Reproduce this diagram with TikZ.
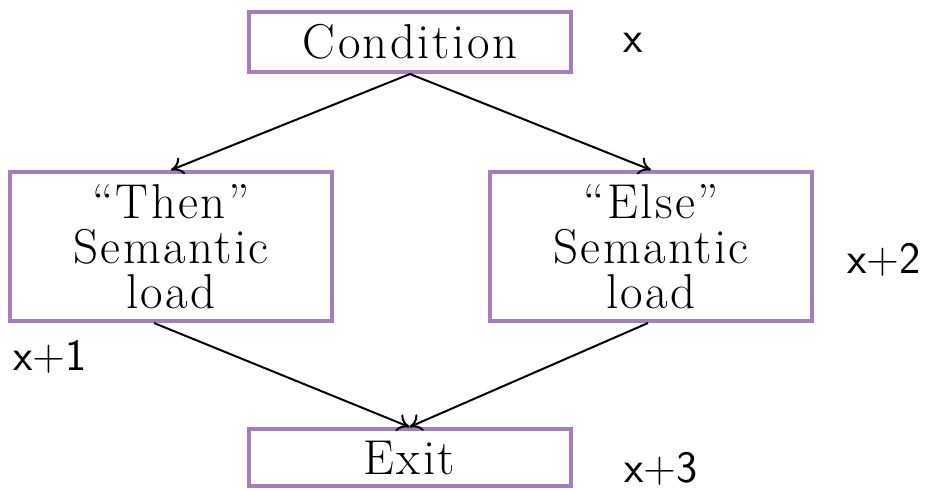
\documentclass[tikz,border=0pt]{standalone}
\usepackage{fontspec}
\usepackage{tikz}
\usetikzlibrary{arrows, arrows.meta}
\usepackage{xcolor}

\newfontfamily\boxfont[LetterSpace=5]{Latin Modern Roman}
\definecolor{boxpurple}{HTML}{A67EBE}

\tikzset{
  stagebox/.style={draw=boxpurple, line width=2pt, rectangle, align=center,
    minimum width=161pt, font=\boxfont\fontsize{24.5}{22.5}\selectfont},
  stepno/.style={inner sep=0pt, font=\sffamily\fontsize{22.5}{24}\selectfont},
  flow/.style={-{To[length=6pt,width=9pt]}, line width=1pt, black}
}

\begin{document}
\begin{tikzpicture}[x=0.5pt, y=-0.5pt]
\useasboundingbox (0,0) rectangle (929,489);

%boxes
\node [stagebox, minimum height=30pt] (cond) at (410,42) {Condition};
\node [stagebox, minimum height=74.5pt] (thenbox) at (171,246.5) {“Then”\\Semantic\\load};
\node [stagebox, minimum height=74.5pt] (elsebox) at (651,246.5) {“Else”\\Semantic\\load};
\node [stagebox, minimum height=28.5pt] (exit) at (409.5,457.5) {Exit};

%arrows
\draw [flow] (cond.south) -- (thenbox.north);
\draw [flow] (cond.south) -- (elsebox.north);
\draw [flow] ([xshift=-8.5pt]thenbox.south) -- (exit.north);
\draw [flow] ([xshift=-1.5pt]elsebox.south) -- (exit.north);

%labels
\node [stepno] (lx) at (633,43) {x};
\node [stepno] (lx1) at (50,357) {x+1};
\node [stepno] (lx2) at (884,260) {x+2};
\node [stepno] (lx3) at (661,469) {x+3};

\end{tikzpicture}
\end{document}
